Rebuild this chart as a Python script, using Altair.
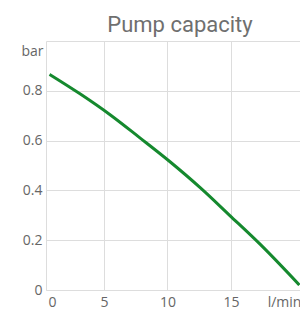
import altair as alt
import pandas as pd

# curve
flow = [0.7, 3.1, 5.5, 7.8, 10.2, 12.6, 14.9, 17.3, 20.4]
pressure = [0.866, 0.788, 0.703, 0.612, 0.515, 0.41, 0.30, 0.184, 0.02]

x_grid = [5, 10, 15]
x_label_pos = [0.89, 5, 10, 15, 19.19]
x_label_txt = ["0", "5", "10", "15", "l/min"]
y_ticks = [0, 0.2, 0.4, 0.6, 0.8]

df = pd.DataFrame({"flow": flow, "pressure": pressure})

label_map = "{" + ",".join(f"'{p}':'{t}'" for p, t in zip(x_label_pos, x_label_txt)) + "}"
grid_test = " || ".join(f"datum.value == {g}" for g in x_grid)

text_color = "#666666"
title_color = "#6f6f6f"
grid_color = "#dddddd"

chart = (
    alt.Chart(df)
    .mark_line(color="#15892e", strokeWidth=3, interpolate="monotone")
    .encode(
        x=alt.X(
            "flow:Q",
            scale=alt.Scale(domain=[0.42, 20.45], nice=False, zero=False),
            axis=alt.Axis(
                values=x_label_pos,
                labelExpr=f"{label_map}[toString(datum.value)]",
                title=None,
                ticks=False,
                domain=False,
                grid=True,
                gridColor=grid_color,
                gridOpacity={"condition": {"test": grid_test, "value": 1}, "value": 0},
                labelPadding=5,
                labelFont="Open Sans",
                labelFontSize=14,
                labelColor=text_color,
            ),
        ),
        y=alt.Y(
            "pressure:Q",
            scale=alt.Scale(domain=[0, 1], nice=False),
            axis=alt.Axis(
                values=y_ticks,
                format=".1~f",
                title="bar",
                titleAngle=0,
                titleX=-3,
                titleY=10,
                titleAlign="right",
                titleBaseline="middle",
                titleFont="Open Sans",
                titleFontSize=14,
                titleFontWeight="normal",
                titleColor=text_color,
                ticks=False,
                domain=False,
                gridColor=grid_color,
                labelPadding=4,
                labelFont="Open Sans",
                labelFontSize=14,
                labelColor=text_color,
            ),
        ),
    )
    .properties(
        width=254,
        height=249,
        title=alt.TitleParams(
            "Pump capacity",
            font="Roboto",
            fontSize=22,
            fontWeight="normal",
            color=title_color,
            anchor="middle",
            frame="group",
            baseline="alphabetic",
            offset=9,
            dx=7,
            dy=22,
        ),
        autosize=alt.AutoSizeParams(type="none"),
        padding={"left": 38, "top": 33, "right": 0, "bottom": 19},
    )
    .configure_view(stroke=grid_color, strokeWidth=1)
)

chart.save("out.html", embed_options={"renderer": "svg", "actions": False})
